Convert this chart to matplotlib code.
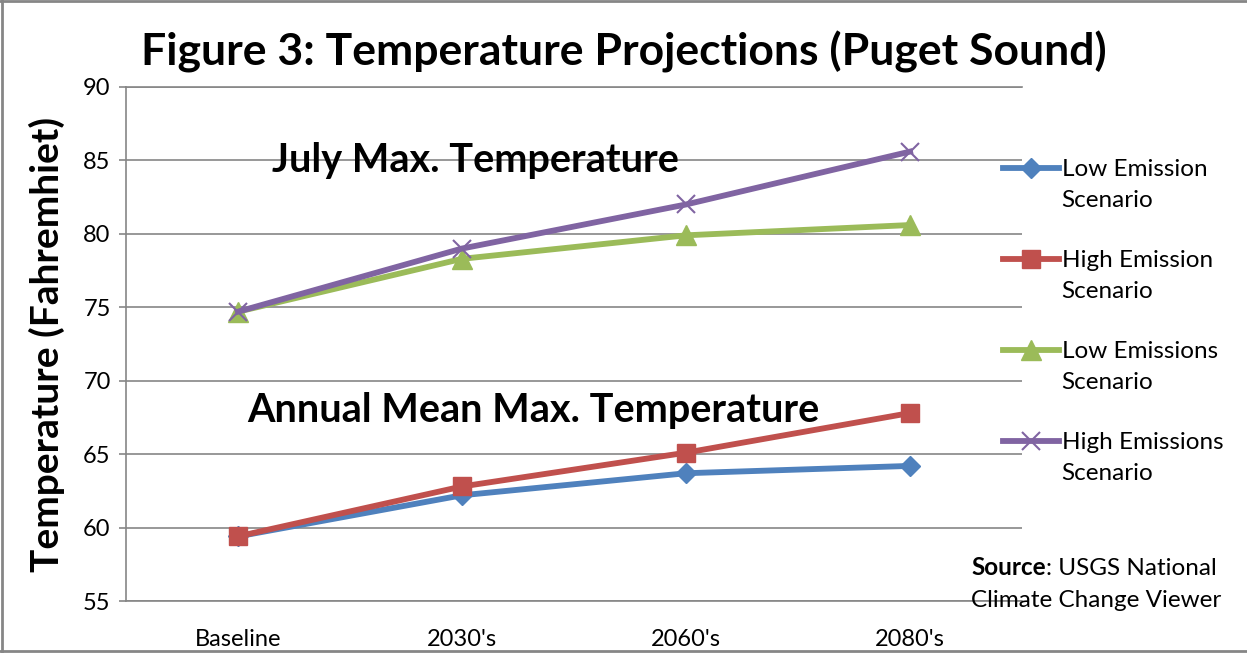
import matplotlib.pyplot as plt
from matplotlib.lines import Line2D
from matplotlib.text import Annotation

periods = ["Baseline", "2030's", "2060's", "2080's"]

annual_low = [59.4, 62.2, 63.7, 64.2]
annual_high = [59.4, 62.8, 65.1, 67.8]
july_low = [74.7, 78.3, 79.9, 80.6]
july_high = [74.7, 79.0, 82.0, 85.6]

labels = ["Low Emission", "High Emission", "Low Emissions", "High Emissions"]

plt.rcParams["font.family"] = ["Lato", "DejaVu Sans"]

fig = plt.figure(figsize=(12.47, 6.53), dpi=100)
ax = fig.add_axes([0.101, 0.0796, 0.7186, 0.7872])

x = range(len(periods))
lw = 4.2
l1, = ax.plot(x, annual_low, color="#4F81BD", marker="D", markersize=10, linewidth=lw)
l2, = ax.plot(x, annual_high, color="#C0504D", marker="s", markersize=13, linewidth=lw)
l3, = ax.plot(x, july_low, color="#9BBB59", marker="^", markersize=14, linewidth=lw)
l4, = ax.plot(x, july_high, color="#8064A2", marker="x", markersize=13,
              markeredgewidth=1.5, linewidth=lw)

ax.set_xlim(-0.5, 3.5)
ax.set_ylim(55, 90)
ax.set_yticks(range(55, 91, 5))
ax.set_xticks(list(x))
ax.set_xticklabels(periods)
ax.tick_params(axis="x", length=0, pad=20, labelsize=17)
ax.tick_params(axis="y", length=5, width=1.2, color="#868686", pad=6, labelsize=17)
ax.grid(axis="y", color="#868686", linewidth=1.2)
ax.set_axisbelow(True)
for side in ["left", "bottom", "top"]:
    ax.spines[side].set_color("#868686")
    ax.spines[side].set_linewidth(1.2)
ax.spines["right"].set_visible(False)

ax.text(0.15, 85, "July Max. Temperature", fontsize=28.5, fontweight="bold",
        va="center", ha="left")
ax.text(0.04, 68.0, "Annual Mean Max. Temperature", fontsize=28.5, fontweight="bold",
        va="center", ha="left")

fig.text(0.5, 0.92, "Figure 3: Temperature Projections (Puget Sound)",
         fontsize=32, fontweight="bold", ha="center", va="center")
fig.text(0.038, 0.472, "Temperature (Fahremhiet)", fontsize=28, fontweight="bold",
         rotation=90, ha="center", va="center")

# legend: marker line sits on the first line, "Scenario" wraps underneath
leg = fig.legend([l1, l2, l3, l4], labels, loc="upper left",
                 bbox_to_anchor=(0.787, 0.79), frameon=False, fontsize=17.5,
                 handlelength=2.3, handletextpad=0.1, labelspacing=2.88)
for t in leg.get_texts():
    fig.add_artist(Annotation("Scenario", xy=(0, 0), xycoords=t,
                              xytext=(0, -31), textcoords="offset pixels",
                              fontsize=17.5, ha="left", va="bottom", zorder=10))

src = fig.text(0.779, 0.119, "Source", fontsize=17.5, fontweight="bold",
               ha="left", va="baseline")
ax.annotate(": USGS National", xy=(1, 0), xycoords=src, fontsize=17.5,
            ha="left", va="bottom")
fig.text(0.779, 0.07, "Climate Change Viewer", fontsize=17.5, ha="left", va="baseline")

# outer chart frame
for xs, ys in [([0.002, 0.002], [0, 1]), ([0, 1], [0.998, 0.998]), ([0, 1], [0.003, 0.003])]:
    fig.add_artist(Line2D(xs, ys, color="#868686", linewidth=2, transform=fig.transFigure))

fig.savefig("out.png", dpi=100)
